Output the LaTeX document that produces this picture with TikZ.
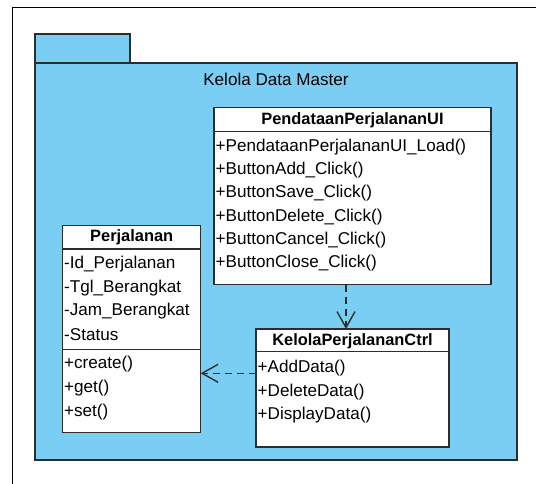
\documentclass[tikz,border=0pt]{standalone}
\usepackage{fontspec}
\setmainfont{Liberation Sans}
\usetikzlibrary{arrows.meta}

\definecolor{pkgblue}{RGB}{122,206,243}
\definecolor{edge}{RGB}{45,45,45}

\tikzset{
  pkg/.style={draw=edge, line width=1.3pt, fill=pkgblue},
  classbox/.style={draw=edge, line width=1.3pt, fill=white, anchor=north west,
    inner sep=0pt, outer sep=0pt},
  member/.style={anchor=west, inner sep=0pt, font=\fontsize{17.1}{19}\selectfont},
  header/.style={anchor=center, inner sep=0pt, font=\bfseries\fontsize{16.4}{18}\selectfont},
  dep/.style={draw=edge, line width=1.4pt, dash pattern=on 7pt off 5pt,
    -{Straight Barb[length=16pt,width=18pt,line width=1.4pt]}},
}

\begin{document}
\begin{tikzpicture}[x=1pt,y=-1pt]
  \useasboundingbox (0,0) rectangle (536,484);

  % outer frame
  \draw[line width=1pt, black] (12,490) -- (12,8) -- (540,8);

  % package "Kelola Data Master"
  \draw[pkg] (35,34) rectangle (130,63);
  \draw[pkg] (35,63) rectangle (517,460);
  \node[font=\fontsize{17.1}{19}\selectfont] (pkgtitle) at (276,79) {Kelola Data Master};

  % class PendataanPerjalananUI
  \node[classbox, minimum width=277pt, minimum height=177pt] (ui) at (214,107.5) {};
  \draw[edge, line width=1.3pt] (214,131.5) -- (491,131.5);
  \node[header] (uih) at (352.5,120) {PendataanPerjalananUI};
  \node[member] (ui1) at (215.5,146.7) {+PendataanPerjalananUI\_Load()};
  \node[member] (ui2) at (215.5,170) {+ButtonAdd\_Click()};
  \node[member] (ui3) at (215.5,193.3) {+ButtonSave\_Click()};
  \node[member] (ui4) at (215.5,216.6) {+ButtonDelete\_Click()};
  \node[member] (ui5) at (215.5,240) {+ButtonCancel\_Click()};
  \node[member] (ui6) at (215.5,263.3) {+ButtonClose\_Click()};

  % class Perjalanan
  \node[classbox, minimum width=138pt, minimum height=207pt] (perj) at (62.7,225.3) {};
  \draw[edge, line width=1.3pt] (62.7,249) -- (200.7,249);
  \draw[edge, line width=1.3pt] (62.7,349.3) -- (200.7,349.3);
  \node[header] (perjh) at (131.7,237.5) {Perjalanan};
  \node[member] (p1) at (64,264.3) {-Id\_Perjalanan};
  \node[member] (p2) at (64,287.7) {-Tgl\_Berangkat};
  \node[member] (p3) at (64,311) {-Jam\_Berangkat};
  \node[member] (p4) at (64,334.3) {-Status};
  \node[member] (p5) at (64,364.5) {+create()};
  \node[member] (p6) at (64,388.5) {+get()};
  \node[member] (p7) at (64,411.7) {+set()};

  % class KelolaPerjalananCtrl
  \node[classbox, minimum width=193pt, minimum height=118pt] (ctrl) at (256,329) {};
  \draw[edge, line width=1.3pt] (256,351.7) -- (449,351.7);
  \node[header] (ctrlh) at (352.5,341) {KelolaPerjalananCtrl};
  \node[member] (c1) at (257.5,368.3) {+AddData()};
  \node[member] (c2) at (257.5,391.7) {+DeleteData()};
  \node[member] (c3) at (257.5,415) {+DisplayData()};

  % dependencies
  \draw[dep] (ui.south -| 346,0) -- (ctrl.north -| 346,0);
  \draw[dep] (ctrl.west |- 0,373.3) -- (perj.east |- 0,373.3);
\end{tikzpicture}
\end{document}
